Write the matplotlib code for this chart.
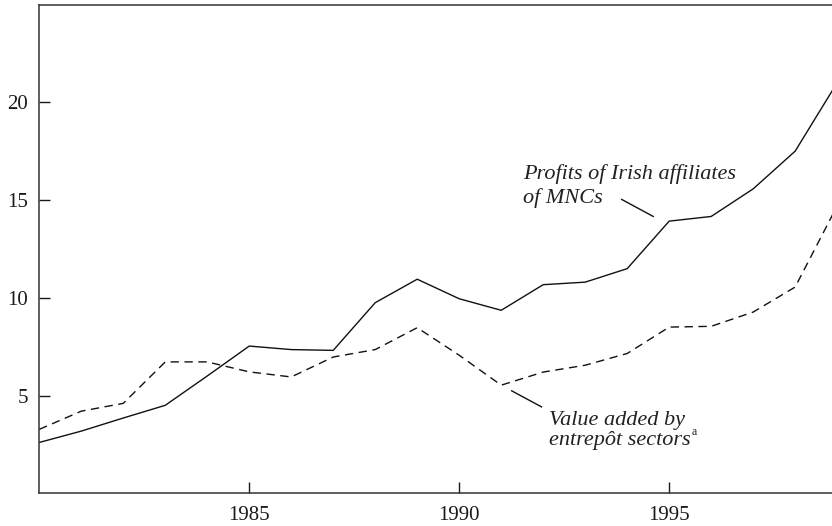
import matplotlib
matplotlib.use("Agg")
import matplotlib.pyplot as plt

years = list(range(1980, 2000))
profits = [2.6, 3.18, 3.85, 4.5, 6.0, 7.53, 7.35, 7.31, 9.75, 10.95, 9.95, 9.36,
           10.67, 10.8, 11.49, 13.92, 14.16, 15.57, 17.5, 21.0]
value_added = [3.27, 4.2, 4.6, 6.72, 6.72, 6.21, 5.95, 6.97, 7.35, 8.47, 7.06, 5.53,
               6.2, 6.55, 7.15, 8.5, 8.54, 9.27, 10.55, 14.7]
xticks = [1985, 1990, 1995]
yticks = [5, 10, 15, 20]

plt.rcParams['font.family'] = ['Liberation Serif', 'DejaVu Serif']
plt.rcParams['lines.scale_dashes'] = False

fig = plt.figure(figsize=(8.32, 5.26), dpi=100)
ax = fig.add_axes([0.0472, 0.0622, 0.959, 0.9292])

ax.plot(years, profits, color='#111111', lw=1.0)
ax.plot(years, value_added, color='#111111', lw=1.0, dashes=(6.0, 4.0))

ax.set_xlim(1980, 1999)
ax.set_ylim(0, 25)
ax.set_xticks(xticks)
ax.set_yticks(yticks)
ax.set_xticklabels([str(t) for t in xticks])
ax.set_yticklabels([str(t) for t in yticks])
ax.tick_params(axis='both', direction='in', length=8, width=1.0, labelsize=15,
               colors='#1a1a1a')
ax.tick_params(axis='y', pad=8)
ax.tick_params(axis='x', pad=9)
for s in ax.spines.values():
    s.set_linewidth(1.1)
    s.set_color('#333333')

tkw = dict(fontsize=16, style='italic', color='#222222', va='baseline', ha='left')
ax.text(1991.52, 16.09, 'Profits of Irish affiliates', **tkw)
ax.text(1991.52, 14.87, 'of MNCs', **tkw)
ax.plot([1993.87, 1994.62], [15.03, 14.16], color='#111111', lw=1.0)

ax.text(1992.14, 3.51, 'Value added by', **tkw)
t2 = ax.text(1992.14, 2.47, 'entrepôt sectors', **tkw)
ax.annotate('a', xy=(1.0, 0.62), xycoords=t2, fontsize=8.5, color='#222222',
            ha='left', va='bottom', xytext=(1, 0), textcoords='offset points')
ax.plot([1991.25, 1991.96], [5.24, 4.42], color='#111111', lw=1.0)

fig.savefig('out.png', dpi=100)
